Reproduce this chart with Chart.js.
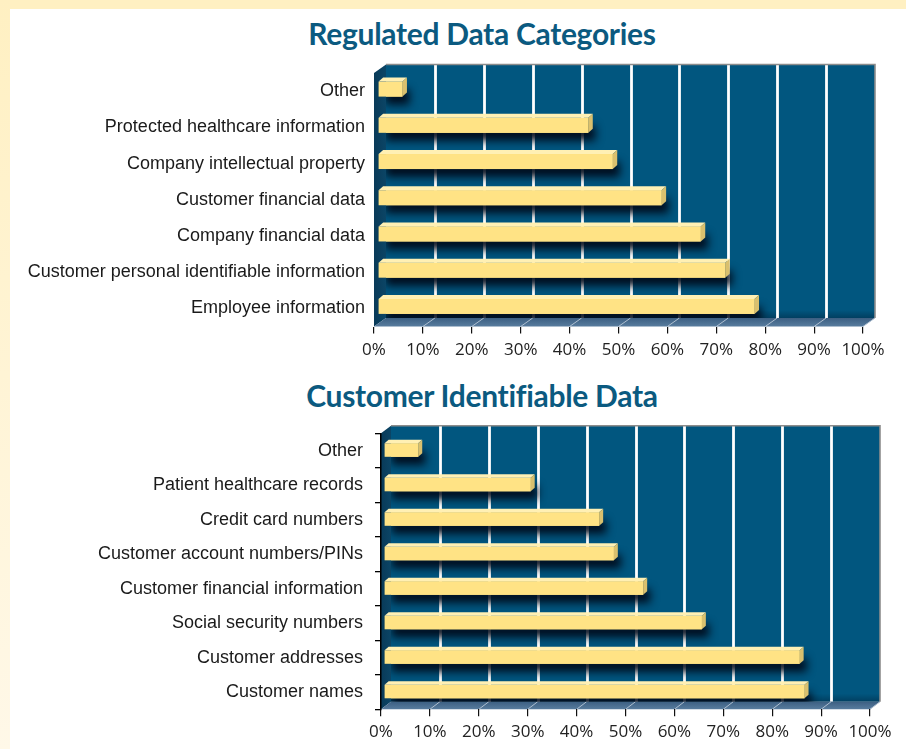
<!DOCTYPE html>
<html><head><meta charset="utf-8">
<script src="https://cdn.jsdelivr.net/npm/chart.js@4.4.1/dist/chart.umd.min.js"></script>
<style>
html,body{margin:0;padding:0;background:#fff;}
body{width:906px;height:749px;position:relative;overflow:hidden;}
#frameTop{position:absolute;left:0;top:0;width:906px;height:9px;background:#FFF0C2;}
#frameLeft{position:absolute;left:0;top:0;width:10px;height:749px;background:linear-gradient(#FFF0C2,#FFF8E8);}
.title{position:absolute;left:0;width:964px;text-align:center;font-family:Lato,'Open Sans',sans-serif;font-weight:bold;font-size:30px;color:#0B5A80;margin:0;line-height:32px;letter-spacing:-0.3px;}
.wrap{position:absolute;left:0;width:906px;}
</style></head>
<body>
<div id="frameTop"></div><div id="frameLeft"></div>
<h2 class="title" style="top:17px">Regulated Data Categories</h2>
<h2 class="title" style="top:379px">Customer Identifiable Data</h2>
<div class="wrap" style="top:0;height:370px"><canvas id="c1" width="906" height="370"></canvas></div>
<div class="wrap" style="top:370px;height:379px"><canvas id="c2" width="906" height="379"></canvas></div>
<script>
// ---- data ----
const regulatedCategories = [
  'Other',
  'Protected healthcare information',
  'Company intellectual property',
  'Customer financial data',
  'Company financial data',
  'Customer personal identifiable information',
  'Employee information'
];
const regulatedValues = [5, 43, 48, 58, 66, 71, 77];

const identifiableCategories = [
  'Other',
  'Patient healthcare records',
  'Credit card numbers',
  'Customer account numbers/PINs',
  'Customer financial information',
  'Social security numbers',
  'Customer addresses',
  'Customer names'
];
const identifiableValues = [7, 30, 44, 47, 53, 65, 85, 86];

const percentTickLabels = ['0%','10%','20%','30%','40%','50%','60%','70%','80%','90%','100%'];

// ---- 3D look plugin ----
function make3D(cfg) {
  return {
    id: 'threeD',
    beforeDraw(chart) {
      const ctx = chart.ctx, a = chart.chartArea, xs = chart.scales.x;
      const DX = cfg.DX, DY = cfg.DY;
      ctx.save();
      // back wall
      ctx.fillStyle = '#01567F';
      ctx.fillRect(a.left + DX, a.top - DY, a.right - a.left, a.bottom - a.top);
      // shading near floor
      let g = ctx.createLinearGradient(0, a.bottom - DY - 8, 0, a.bottom - DY);
      g.addColorStop(0, 'rgba(0,20,40,0)');
      g.addColorStop(1, 'rgba(0,20,40,0.35)');
      ctx.fillStyle = g;
      ctx.fillRect(a.left + DX, a.bottom - DY - 8, a.right - a.left, 8);
      // gridlines on back wall
      ctx.strokeStyle = '#ffffff';
      ctx.lineWidth = 2.8;
      for (let v = 10; v < 100; v += 10) {
        const x = Math.round(xs.getPixelForValue(v) + DX) + 0.5;
        ctx.beginPath();
        ctx.moveTo(x, a.top - DY);
        ctx.lineTo(x, a.bottom - DY);
        ctx.stroke();
      }
      // border of wall
      ctx.strokeStyle = '#8c8c8c';
      ctx.lineWidth = 1.6;
      ctx.beginPath();
      ctx.moveTo(a.left + DX, a.top - DY);
      ctx.lineTo(a.right + DX, a.top - DY);
      ctx.lineTo(a.right + DX, a.bottom - DY);
      ctx.stroke();
      // left wall
      g = ctx.createLinearGradient(a.left, 0, a.left + DX, 0);
      g.addColorStop(0, '#093a58');
      g.addColorStop(1, '#0b4566');
      ctx.fillStyle = g;
      ctx.beginPath();
      ctx.moveTo(a.left, a.top);
      ctx.lineTo(a.left + DX, a.top - DY);
      ctx.lineTo(a.left + DX, a.bottom - DY);
      ctx.lineTo(a.left, a.bottom);
      ctx.closePath();
      ctx.fill();
      // floor
      g = ctx.createLinearGradient(0, a.bottom - DY, 0, a.bottom);
      g.addColorStop(0, '#3c5f82');
      g.addColorStop(1, '#587c9e');
      ctx.fillStyle = g;
      ctx.beginPath();
      ctx.moveTo(a.left, a.bottom);
      ctx.lineTo(a.left + DX, a.bottom - DY);
      ctx.lineTo(a.right + DX, a.bottom - DY);
      ctx.lineTo(a.right, a.bottom);
      ctx.closePath();
      ctx.fill();
      ctx.strokeStyle = '#aebfd0';
      ctx.lineWidth = 1;
      for (let v = 10; v <= 100; v += 10) {
        const x = xs.getPixelForValue(v);
        ctx.beginPath();
        ctx.moveTo(x, a.bottom);
        ctx.lineTo(x + DX, a.bottom - DY);
        ctx.stroke();
      }
      ctx.restore();
    },
    afterDatasetsDraw(chart) {
      const ctx = chart.ctx, a = chart.chartArea;
      const meta = chart.getDatasetMeta(0);
      const bx = cfg.offX, by = cfg.offY, dx = cfg.bdx, dy = cfg.bdy;
      ctx.save();
      // shadows, clipped to wall
      ctx.beginPath();
      ctx.rect(a.left + cfg.DX, a.top - cfg.DY, a.right - a.left, a.bottom - a.top);
      ctx.clip();
      meta.data.forEach(el => {
        const p = el.getProps(['x', 'y', 'base', 'height'], true);
        const x0 = p.base + bx, x1 = p.x + bx, h = p.height;
        const y0 = p.y + by - h / 2;
        ctx.shadowColor = 'rgba(0,10,25,0.95)';
        ctx.shadowBlur = 9;
        ctx.shadowOffsetX = 7;
        ctx.shadowOffsetY = 8;
        ctx.fillStyle = '#FFE385';
        ctx.fillRect(x0, y0, x1 - x0, h);
      });
      ctx.restore();
      ctx.save();
      meta.data.forEach(el => {
        const p = el.getProps(['x', 'y', 'base', 'height'], true);
        const x0 = p.base + bx, x1 = p.x + bx, h = p.height;
        const y0 = p.y + by - h / 2, y1 = y0 + h;
        // front face
        ctx.fillStyle = '#FFE385';
        ctx.fillRect(x0, y0, x1 - x0, h);
        // top face
        ctx.fillStyle = '#FFF0B4';
        ctx.beginPath();
        ctx.moveTo(x0, y0);
        ctx.lineTo(x0 + dx, y0 - dy);
        ctx.lineTo(x1 + dx, y0 - dy);
        ctx.lineTo(x1, y0);
        ctx.closePath();
        ctx.fill();
        // side face
        ctx.fillStyle = '#D9C06E';
        ctx.beginPath();
        ctx.moveTo(x1, y0);
        ctx.lineTo(x1 + dx, y0 - dy);
        ctx.lineTo(x1 + dx, y1 - dy);
        ctx.lineTo(x1, y1);
        ctx.closePath();
        ctx.fill();
      });
      ctx.restore();
    }
  };
}

function buildChart(id, labels, values, opt) {
  return new Chart(document.getElementById(id), {
    type: 'bar',
    data: {
      labels: labels,
      datasets: [{
        data: values,
        backgroundColor: 'rgba(0,0,0,0)',
        borderWidth: 0,
        barThickness: opt.thick
      }]
    },
    options: {
      indexAxis: 'y',
      responsive: false,
      animation: false,
      events: [],
      layout: { padding: opt.padding },
      plugins: { legend: { display: false }, tooltip: { enabled: false }, title: { display: false } },
      scales: {
        x: {
          type: 'linear', min: 0, max: 100,
          afterFit: s => { s.height = opt.xHeight; },
          ticks: {
            stepSize: 10, padding: 6, maxRotation: 0, autoSkip: false,
            color: '#222', font: { family: "'Open Sans'", size: 17 },
            callback: (v, i) => percentTickLabels[i]
          },
          grid: { display: true, drawOnChartArea: false, drawTicks: true, tickLength: 7, color: '#111', lineWidth: 1.2 },
          border: { display: false }
        },
        y: {
          afterFit: s => { s.width = opt.yWidth; },
          ticks: {
            padding: opt.yPad, autoSkip: false,
            color: '#1a1a1a', font: { family: "'Liberation Sans', Arial", size: 18 }
          },
          grid: opt.yTicks
            ? { display: true, drawOnChartArea: false, drawTicks: true, tickLength: 6, color: '#000', lineWidth: 1.3, offset: true }
            : { display: false },
          border: opt.yTicks ? { display: true, color: '#000', width: 1.5 } : { display: false }
        }
      }
    },
    plugins: [make3D(opt.td)]
  });
}

buildChart('c1', regulatedCategories, regulatedValues, {
  thick: 15,
  padding: { top: 73, right: 43, bottom: 13.5, left: 0 },
  xHeight: 30, yWidth: 374, yPad: 1, yTicks: false,
  td: { DX: 12, DY: 8.5, offX: 4, offY: -2, bdx: 4.5, bdy: 4 }
});
buildChart('c2', identifiableCategories, identifiableValues, {
  thick: 13.5,
  padding: { top: 63.3, right: 36, bottom: 9.7, left: 0 },
  xHeight: 30, yWidth: 381, yPad: 12, yTicks: true,
  td: { DX: 10, DY: 7.6, offX: 3, offY: -0.5, bdx: 4, bdy: 3.5 }
});
</script>
</body></html>
